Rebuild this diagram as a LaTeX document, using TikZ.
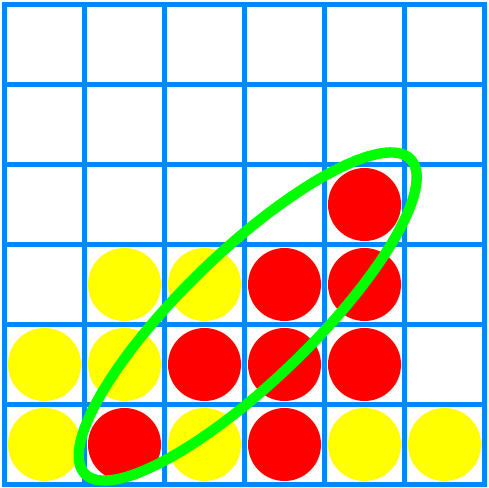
\documentclass[tikz,border=0pt]{standalone}
\usetikzlibrary{calc}
\definecolor{GridClr}{rgb}{0,0.533,1}
\definecolor{RedClr}{rgb}{1,0,0}
\definecolor{YellowClr}{rgb}{1,1,0}
\definecolor{LineClr}{rgb}{0,1,0}

\begin{document}
\begin{tikzpicture}[x=1cm,y=1cm]
\useasboundingbox (-0.05625,-0.04375) rectangle (6.04375,6.05625);
\tikzset{disc/.style={circle,minimum size=0.9125cm,inner sep=0pt}}

% grid
\foreach \i in {0,...,6}{
  \draw[GridClr,line width=0.0625cm] (\i,0) -- (\i,6);
  \draw[GridClr,line width=0.0625cm] (0,\i) -- (6,\i);
}
\draw[GridClr,line width=0.0625cm,line cap=rect] (0,0) rectangle (6,6);

% discs
\foreach \x/\y/\c in {0/0/YellowClr,1/0/RedClr,2/0/YellowClr,3/0/RedClr,4/0/YellowClr,5/0/YellowClr,
                      0/1/YellowClr,1/1/YellowClr,2/1/RedClr,3/1/RedClr,4/1/RedClr,
                      1/2/YellowClr,2/2/YellowClr,3/2/RedClr,4/2/RedClr,
                      4/3/RedClr}
  \node[disc,fill=\c] (d\x\y) at (\x+0.5,\y+0.5) {};

% winning line
\draw[LineClr,line width=0.13cm,rotate around={44:(3.04,2.1)}]
  (3.04,2.1) ellipse (2.83 and 0.81);

\end{tikzpicture}
\end{document}
